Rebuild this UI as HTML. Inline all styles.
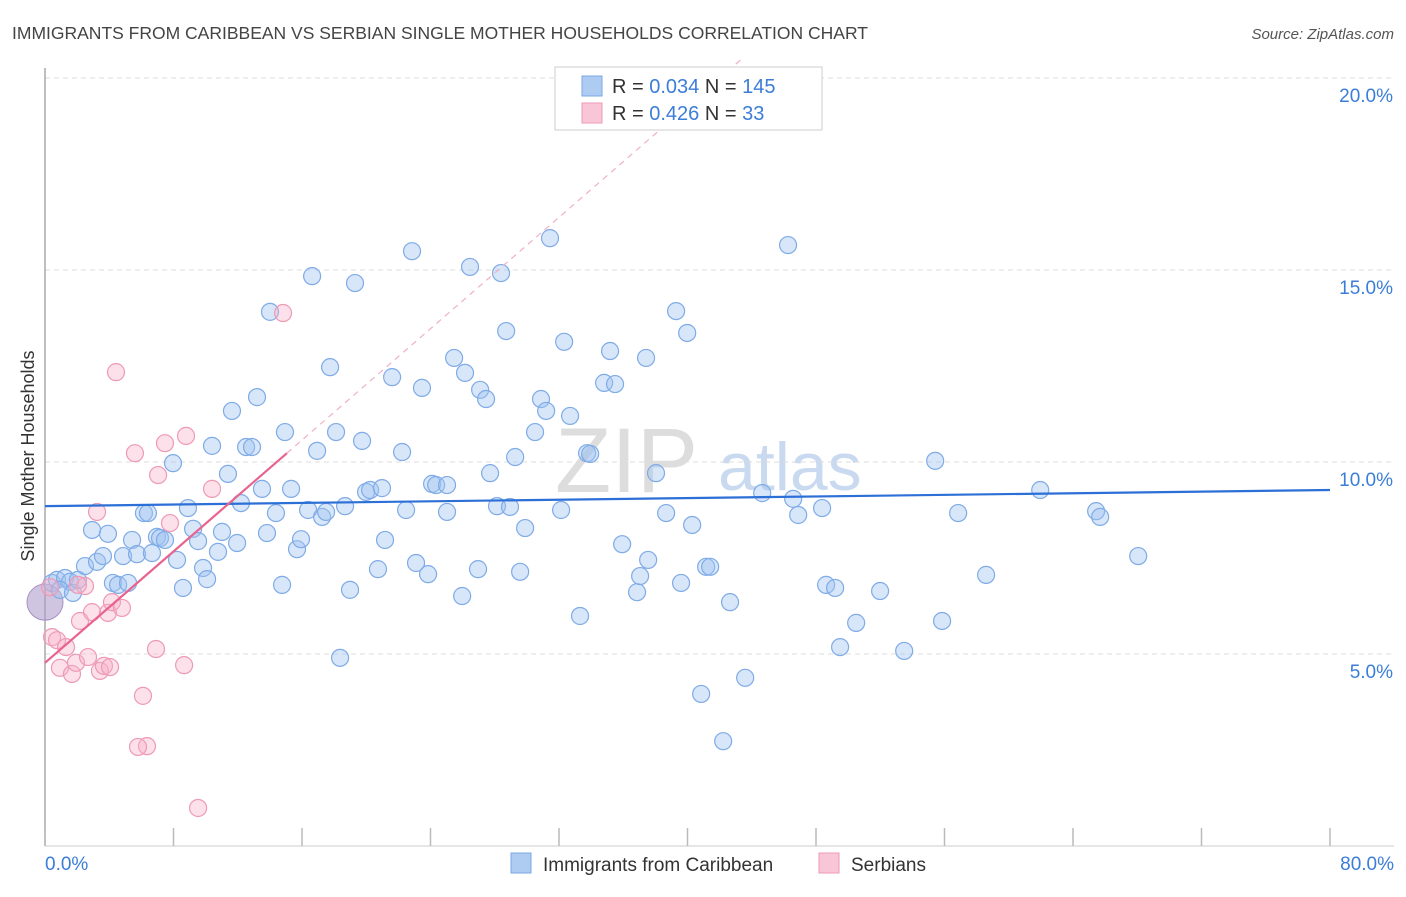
<!DOCTYPE html>
<html><head><meta charset="utf-8"><style>
body{margin:0;background:#fff;font-family:"Liberation Sans",sans-serif;}
svg text{font-family:"Liberation Sans",sans-serif;}
</style></head><body>
<svg id="chart" width="1406" height="892" xmlns="http://www.w3.org/2000/svg">
<text x="12" y="39" font-size="17.5" fill="#444">IMMIGRANTS FROM CARIBBEAN VS SERBIAN SINGLE MOTHER HOUSEHOLDS CORRELATION CHART</text>
<text x="1394" y="39" font-size="15" fill="#555" font-style="italic" text-anchor="end">Source: ZipAtlas.com</text>
<text transform="translate(34,456) rotate(-90)" font-size="18" fill="#333" text-anchor="middle">Single Mother Households</text>
<g>
<text x="555" y="492" font-size="92" fill="#ddd" font-family="Liberation Serif">ZIP</text>
<text x="718" y="490" font-size="68" fill="#c9daf0">atlas</text>
</g>
<g id="grid"></g><g id="axes"></g><g id="pts"></g><g id="lines"></g>
<g>
<rect x="555" y="67" width="267" height="63" fill="#fff" stroke="#ccc"/>
<rect x="582" y="76" width="20" height="20" fill="#aecbf2" stroke="#7aa8e6"/>
<text x="612" y="93" font-size="20" fill="#333">R = <tspan fill="#3b7dd8">0.034</tspan>   N = <tspan fill="#3b7dd8">145</tspan></text>
<rect x="582" y="103" width="20" height="20" fill="#f8c6d6" stroke="#ee9ab5"/>
<text x="612" y="120" font-size="20" fill="#333">R = <tspan fill="#3b7dd8">0.426</tspan>   N = <tspan fill="#3b7dd8">  33</tspan></text>
</g>
<g>
<rect x="511" y="853" width="20" height="20" fill="#aecbf2" stroke="#7aa8e6"/>
<text x="543" y="871" font-size="19" fill="#333">Immigrants from Caribbean</text>
<rect x="819" y="853" width="20" height="20" fill="#f8c6d6" stroke="#ee9ab5"/>
<text x="851" y="871" font-size="19" fill="#333">Serbians</text>
</g>
</svg>
<script>
const blueX=[0.44,0.75,1.25,1.56,0.93,1.74,2.05,2.49,2.93,3.24,3.61,3.92,4.23,4.55,4.86,5.17,5.42,5.73,6.16,6.41,6.66,6.97,7.16,7.47,7.97,8.22,8.59,8.9,9.22,9.53,9.84,10.09,10.4,10.77,11.02,11.39,11.64,11.96,12.2,12.52,12.89,13.2,13.51,13.82,14.01,14.38,14.76,14.94,15.32,15.69,15.94,16.38,16.63,16.94,17.25,17.5,17.75,18.12,18.37,18.68,18.99,19.3,19.74,19.99,20.24,20.73,20.98,21.17,21.61,22.23,22.48,22.85,23.1,23.47,23.85,24.1,24.35,25.03,25.03,25.47,25.97,26.15,26.46,26.96,27.09,27.46,27.71,28.14,28.39,28.71,28.95,29.27,29.58,29.89,30.51,30.88,31.2,31.44,32.13,32.32,32.69,33.31,33.75,33.94,34.81,35.18,35.49,35.93,36.86,37.05,37.42,37.55,38.04,38.67,39.29,39.6,39.98,40.29,40.85,41.16,41.41,42.22,42.65,43.59,44.65,46.26,46.58,46.89,48.38,48.63,49.19,49.5,50.5,51.99,53.49,55.42,55.85,56.85,58.59,61.96,65.44,65.69,68.06];
const blueY=[6.85,6.93,6.98,6.88,6.67,6.59,6.93,7.29,8.23,7.40,7.55,8.13,6.85,6.80,7.55,6.85,7.97,7.60,8.67,8.67,7.63,8.05,8.02,7.97,9.97,7.45,6.72,8.80,8.26,7.94,7.24,6.95,10.42,7.66,8.18,9.69,11.33,7.89,8.93,10.39,10.39,11.69,9.30,8.15,13.91,8.67,6.80,10.78,9.30,7.73,7.99,8.75,14.84,10.29,8.57,8.70,12.47,10.78,4.90,8.85,6.67,14.66,10.55,9.22,9.27,7.21,9.32,7.97,12.21,10.26,8.75,15.49,7.37,11.93,7.08,9.43,9.40,9.40,8.70,12.71,6.51,12.32,15.08,7.21,11.88,11.64,9.71,8.85,14.92,13.41,8.83,10.13,7.14,8.28,10.78,11.64,11.33,15.83,8.75,13.13,11.20,5.99,10.23,10.21,12.06,12.89,12.03,7.86,6.61,7.03,12.71,7.45,9.71,8.67,13.93,6.85,13.36,8.36,3.96,7.27,7.27,2.73,6.35,4.38,9.19,15.65,9.04,8.62,8.80,6.80,6.72,5.18,5.81,6.64,5.08,10.03,5.86,8.67,7.06,9.27,8.72,8.57,7.55];
const pinkX=[0.44,0.75,0.93,1.31,1.68,1.93,2.18,2.49,2.68,2.93,3.24,3.42,3.67,3.92,4.05,4.17,4.42,4.79,5.6,6.1,6.35,5.79,6.91,7.04,7.47,7.78,8.66,8.78,9.53,10.4,14.82,0.31,2.05];
const pinkY=[5.44,5.36,4.64,5.18,4.48,4.77,5.86,6.77,4.92,6.09,8.70,4.56,4.69,6.07,4.66,6.35,12.34,6.20,10.23,3.91,2.60,2.58,5.13,9.66,10.49,8.41,4.71,10.68,0.99,9.30,13.88,6.74,6.80];
const yTicks=[5,10,15,20];
const xTickLabels=["0.0%","80.0%"];
const blueTrend=[8.85,9.27];
const pinkTrend=[4.77,10.23];
const pinkTrendEndX=15.06;
const NS="http://www.w3.org/2000/svg";
const X0=45,X1=1330,Y0=846,Y1=78;
const sx=v=>X0+(v/80)*(X1-X0);
const sy=v=>Y0-(v/20)*(Y0-Y1);
function mk(tag,attrs,parent){const e=document.createElementNS(NS,tag);for(const k in attrs)e.setAttribute(k,attrs[k]);document.getElementById(parent).appendChild(e);return e;}
yTicks.forEach(t=>{
  const l=mk('line',{x1:X0,x2:1394,y1:sy(t),y2:sy(t),stroke:'#ddd','stroke-dasharray':'5,4'},'grid');
  
  
  const tx=mk('text',{x:1393,y:sy(t)+24,'font-size':19,fill:'#3b7dd8','text-anchor':'end'},'grid');
  tx.textContent=t.toFixed(1)+'%';
  
  
});
const ax=mk('line',{x1:X0,x2:X0,y1:68,y2:Y0,stroke:'#aaa','stroke-width':1.5},'axes');


const bx=mk('line',{x1:X0,x2:1394,y1:Y0,y2:Y0,stroke:'#ccc'},'axes');


for(let i=0;i<=10;i++){
  const t=mk('line',{x1:sx(i*8),x2:sx(i*8),y1:828,y2:Y0,stroke:'#bbb','stroke-width':1.5},'axes');
  
  
}
const l0=mk('text',{x:45,y:870,'font-size':19,fill:'#3b7dd8'},'axes');
l0.textContent=xTickLabels[0];


const l1=mk('text',{x:1394,y:870,'font-size':19,fill:'#3b7dd8','text-anchor':'end'},'axes');
l1.textContent=xTickLabels[1];


const big=mk('circle',{cx:sx(0),cy:sy(6.35),r:18,fill:'rgba(170,150,200,0.55)',stroke:'#a58fc6'},'pts');


blueX.forEach((x,i)=>{
  const c=mk('circle',{cx:sx(x),cy:sy(blueY[i]),r:8.5,fill:'rgba(160,196,240,0.42)',stroke:'#7fabe6','stroke-width':1.2},'pts');
  
  
});
pinkX.forEach((x,i)=>{
  const c=mk('circle',{cx:sx(x),cy:sy(pinkY[i]),r:8.5,fill:'rgba(246,176,200,0.38)',stroke:'#ee9ab5','stroke-width':1.2},'pts');
  
  
});
const bt=mk('line',{x1:sx(0),y1:sy(blueTrend[0]),x2:sx(80),y2:sy(blueTrend[1]),stroke:'#2c6fd6','stroke-width':2.2},'lines');


const slope=(pinkTrend[1]-pinkTrend[0])/pinkTrendEndX;
const xe=(20.5-pinkTrend[0])/slope;
const pd=mk('line',{x1:sx(pinkTrendEndX),y1:sy(pinkTrend[1]),x2:sx(xe),y2:sy(20.5),stroke:'#f0b0c4','stroke-width':1.2,'stroke-dasharray':'6,5'},'lines');


const pt=mk('line',{x1:sx(0),y1:sy(pinkTrend[0]),x2:sx(pinkTrendEndX),y2:sy(pinkTrend[1]),stroke:'#e8648e','stroke-width':2.2},'lines');


</script>
</body></html>
